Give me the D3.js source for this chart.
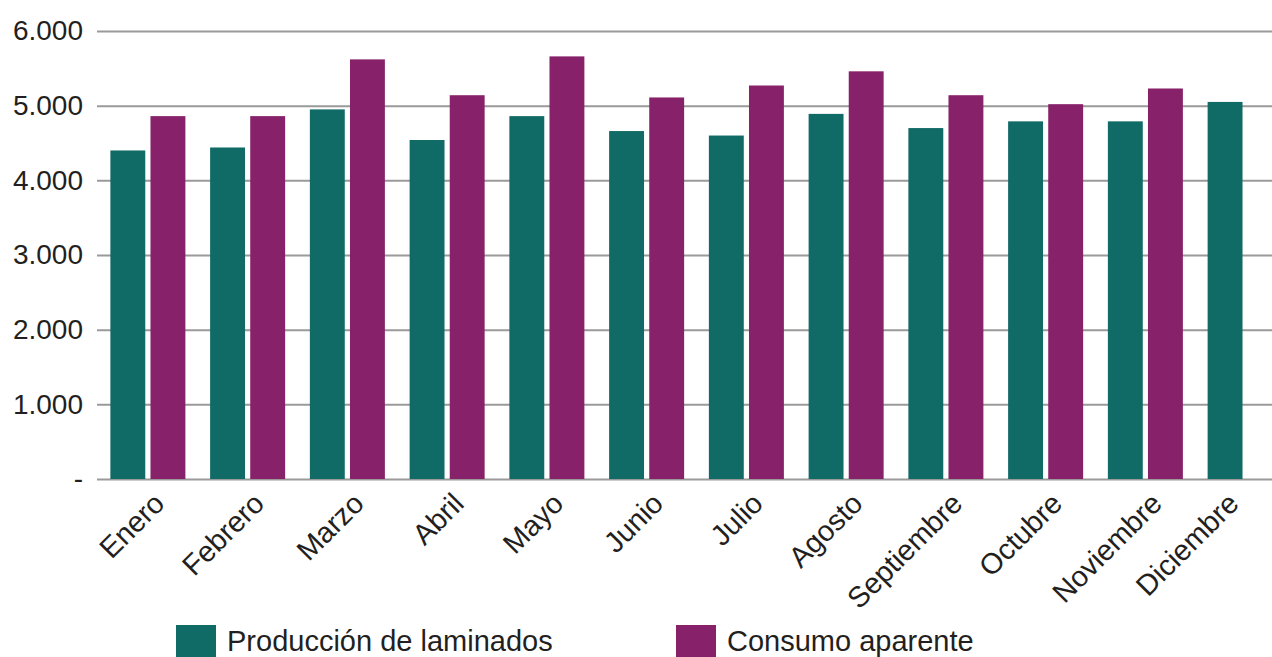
<!DOCTYPE html>
<html>
<head>
<meta charset="utf-8">
<script src="https://cdn.jsdelivr.net/npm/d3@7"></script>
<style>
  body { margin: 0; background: #fff; }
  svg text { font-family: "Liberation Sans", Arial, sans-serif; fill: #231f20; }
</style>
</head>
<body>
<svg id="chart" width="1272" height="657"></svg>
<script>
// months on the x axis
const months = ['Enero', 'Febrero', 'Marzo', 'Abril', 'Mayo', 'Junio', 'Julio',
    'Agosto', 'Septiembre', 'Octubre', 'Noviembre', 'Diciembre'];
// series values
const produccion = [4400, 4440, 4950, 4540, 4860, 4660, 4600, 4890, 4700, 4790, 4790, 5050];
const consumo = [4860, 4860, 5620, 5140, 5660, 5110, 5270, 5460, 5140, 5020, 5230, null];
const seriesNames = ['Producción de laminados', 'Consumo aparente'];
const seriesColors = ['#106a66', '#87216a'];
const yTicks = [0, 1000, 2000, 3000, 4000, 5000, 6000];

const svg = d3.select('#chart');

// plot area - the last group runs off the right edge, like the original
const plot = { left: 98, right: 1295, top: 31, bottom: 479 };

const x0 = d3.scaleBand()
    .domain(months)
    .range([plot.left, plot.right])
    .paddingInner(0.248)
    .paddingOuter(0.124);

const x1 = d3.scaleBand()
    .domain(seriesNames)
    .range([0, x0.bandwidth()])
    .paddingInner(0.13);

const y = d3.scaleLinear()
    .domain([0, 6000])
    .range([plot.bottom, plot.top]);

// gridlines + y labels
const fmt = v => v === 0 ? '-' : d3.format(',')(v).replace(',', '.');
const yAxis = svg.append('g')
    .attr('transform', 'translate(' + (plot.left - 1) + ',0)')
    .call(d3.axisLeft(y).tickValues(yTicks).tickFormat(fmt)
        .tickSize(-(1272 - plot.left + 1)).tickPadding(14));
yAxis.select('.domain').remove();
yAxis.selectAll('.tick line').attr('stroke', '#9a9a9a').attr('stroke-width', 2);
yAxis.selectAll('.tick text')
    .attr('font-size', 28)
    .attr('fill', '#231f20');

// bars
const rows = months.map((m, i) => ({ month: m, values: [produccion[i], consumo[i]] }));

svg.append('g')
    .selectAll('g')
    .data(rows)
    .enter()
    .append('g')
    .attr('transform', d => 'translate(' + x0(d.month) + ',0)')
    .selectAll('rect')
    .data(d => d.values.map((v, j) => ({ name: seriesNames[j], value: v, color: seriesColors[j] }))
        .filter(d => d.value != null))
    .enter()
    .append('rect')
    .attr('x', d => x1(d.name))
    .attr('y', d => y(d.value))
    .attr('width', x1.bandwidth())
    .attr('height', d => y(0) - y(d.value))
    .attr('fill', d => d.color);

// x labels, rotated (last one pulled in so it stays inside the frame)
svg.append('g')
    .selectAll('text')
    .data(months)
    .enter()
    .append('text')
    .attr('transform', d => {
        const cx = Math.min(x0(d) + x0.bandwidth() / 2 + 4, 1226);
        return 'translate(' + cx + ',' + (plot.bottom + 12) + ') rotate(-45)';
    })
    .attr('text-anchor', 'end')
    .attr('dy', '0.7em')
    .attr('font-size', 29)
    .text(d => d);

// legend
const legendX = [176, 676];
const legend = svg.append('g')
    .selectAll('g')
    .data(seriesNames)
    .enter()
    .append('g')
    .attr('transform', (d, i) => 'translate(' + legendX[i] + ',625)');

legend.append('rect')
    .attr('width', 40)
    .attr('height', 40)
    .attr('fill', (d, i) => seriesColors[i]);

legend.append('text')
    .attr('x', 51)
    .attr('y', 26)
    .attr('font-size', 29)
    .text(d => d);
</script>
</body>
</html>
